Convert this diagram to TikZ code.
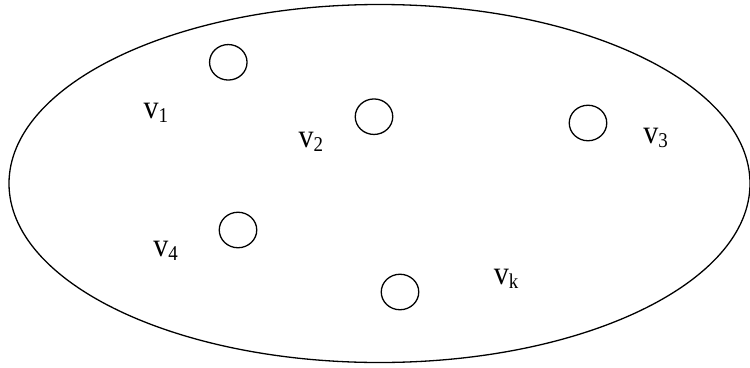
\documentclass[tikz,border=0pt]{standalone}
\usepackage{fontspec}
\setmainfont{Liberation Serif}
\usetikzlibrary{shapes.geometric}
\newcommand{\vlab}[1]{\scalebox{0.97}[1.08]{\fontsize{31}{31}\selectfont v\raisebox{-3.5pt}{\fontsize{19.5}{19.5}\selectfont #1}}}
\begin{document}
\begin{tikzpicture}[x=1pt,y=-1pt,
  line width=1.3pt,
  vert/.style={draw,ellipse,minimum width=37.5pt,minimum height=35.5pt,inner sep=0pt},
  lab/.style={anchor=base west,inner sep=0pt}]
\useasboundingbox (0,0) rectangle (750,367);
\node[draw,ellipse,minimum width=741pt,minimum height=358pt,inner sep=0pt] (set) at (379.5,183.5) {};
\node[vert] (c1) at (228.3,62.3) {};
\node[vert] (c2) at (374,116.7) {};
\node[vert] (c3) at (588,123) {};
\node[vert] (c4) at (238,230) {};
\node[vert] (ck) at (400,292) {};
\node[lab] (v1) at (143,118.5) {\vlab{1}};
\node[lab] (v2) at (298,147.5) {\vlab{2}};
\node[lab] (v3) at (642.7,143.3) {\vlab{3}};
\node[lab] (v4) at (152.7,256.7) {\vlab{4}};
\node[lab] (vk) at (493.3,284.5) {\vlab{k}};
\end{tikzpicture}
\end{document}
